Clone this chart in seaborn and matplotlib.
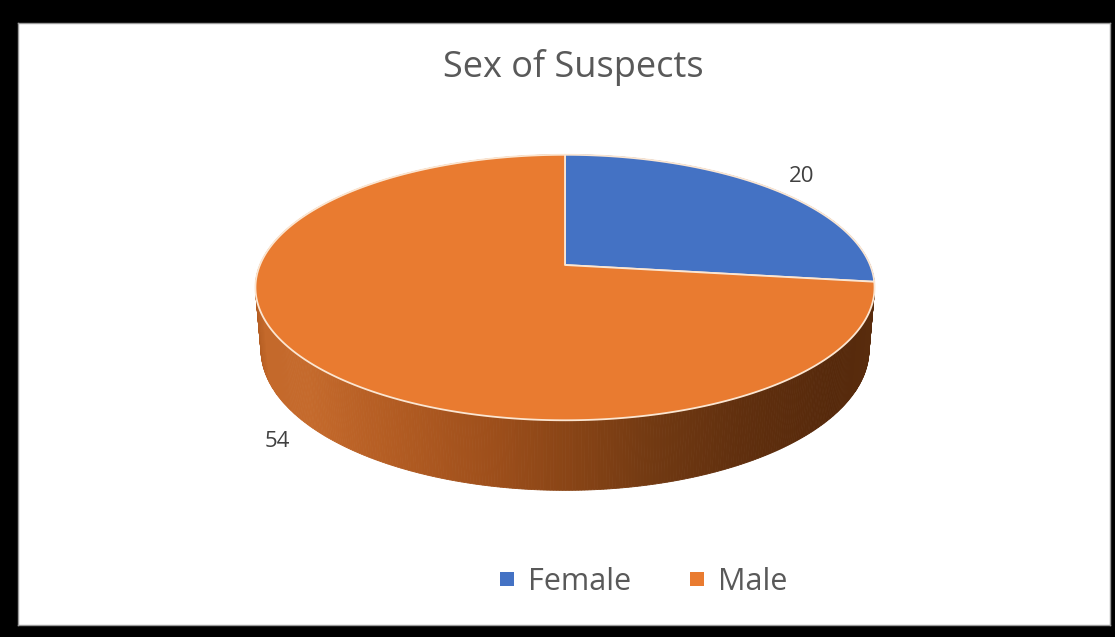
import numpy as np
import matplotlib
matplotlib.use("Agg")
import matplotlib.pyplot as plt
import seaborn as sns
from matplotlib.lines import Line2D
from matplotlib.colors import LinearSegmentedColormap

# ---- data ----
categories = ["Female", "Male"]
values = [20, 54]
slice_colors = ["#4472C4", "#E97B30"]
title = "Sex of Suspects"

sns.set_theme(style="white")
plt.rcParams['font.family'] = ['Open Sans', 'DejaVu Sans']

W, H = 1115, 637
fig = plt.figure(figsize=(W / 100, H / 100), dpi=100)
fig.patch.set_facecolor('black')
L, R, T, B = 18, 1110, 23, 625
ax = fig.add_axes([L / W, (H - B) / H, (R - L) / W, (B - T) / H])
ax.set_xlim(L, R)
ax.set_ylim(B, T)
ax.set_facecolor('white')
ax.set_xticks([])
ax.set_yticks([])
for s in ax.spines.values():
    s.set_color('#9a9a9a')
    s.set_linewidth(1)

# ---- 3D perspective camera for the pie ----
cx, cy = 565, 265
elev = np.deg2rad(25)
ce, se = np.cos(elev), np.sin(elev)
Dist, Foc, thick = 5.34, 1629.0, 0.225


def proj(X, Y, Z):
    d = Dist + Y * ce - Z * se
    return cx + Foc * X / d, cy - Foc * (Y * se + Z * ce) / d


side_maps = [
    LinearSegmentedColormap.from_list("b", ["#24407a", "#2b4a86", "#1f3a6c"]),
    LinearSegmentedColormap.from_list("o", [
        (0.00, "#ad581e"), (0.04, "#c4692b"), (0.125, "#c56a2c"),
        (0.25, "#b45d23"), (0.40, "#9e4f1b"), (0.50, "#8a4516"),
        (0.625, "#713912"), (0.75, "#602f0e"), (0.90, "#56290b"),
        (1.00, "#5a2d0e")]),
]

fracs = np.array(values, dtype=float) / np.sum(values)
starts = 90 - 360 * np.concatenate([[0], np.cumsum(fracs)[:-1]])
ends = starts - 360 * fracs

# side quads (sorted far to near)
quads = []
for i, (a0, a1) in enumerate(zip(starts, ends)):
    n = max(int(abs(a1 - a0) / 0.5), 2)
    ts = np.deg2rad(np.linspace(a0, a1, n + 1))
    for k in range(n):
        t0, t1 = ts[k], ts[k + 1]
        tm = 0.5 * (t0 + t1)
        X = np.array([np.cos(t0), np.cos(t1), np.cos(t1), np.cos(t0)])
        Y = np.array([np.sin(t0), np.sin(t1), np.sin(t1), np.sin(t0)])
        Z = np.array([0, 0, -thick, -thick])
        px, py = proj(X, Y, Z)
        col = side_maps[i]((np.cos(tm) + 1) / 2)
        quads.append((np.sin(tm), px, py, col))
quads.sort(key=lambda q: -q[0])
for _, px, py, col in quads:
    ax.fill(px, py, color=col, lw=0.6, ec=col, zorder=2)

# top faces
for i, (a0, a1) in enumerate(zip(starts, ends)):
    ts = np.deg2rad(np.linspace(a0, a1, 400))
    X = np.concatenate([[0], np.cos(ts), [0]])
    Y = np.concatenate([[0], np.sin(ts), [0]])
    px, py = proj(X, Y, np.zeros_like(X))
    ax.fill(px, py, color=slice_colors[i], ec='#fbe6d2', lw=1.3, zorder=3,
            joinstyle='round')

# data labels (outside end)
for i, (a0, a1) in enumerate(zip(starts, ends)):
    tm = np.deg2rad(0.5 * (a0 + a1))
    back = np.sin(tm) > 0
    r = 1.17 if back else 1.12
    X, Y = r * np.cos(tm), r * np.sin(tm)
    lx, ly = proj(X, Y, 0 if back else -thick)
    ax.text(lx, ly, str(values[i]), ha='center', va='center',
            fontsize=16, color='#404040', zorder=5)

# title
ax.text(573, 77, title, ha='center', va='baseline', fontsize=26,
        color='#595959', zorder=5)

# legend
handles = [Line2D([], [], marker='s', ls='', markersize=10,
                  color=c, markeredgewidth=0) for c in slice_colors]
leg = fig.legend(handles, categories, loc='center', ncol=2,
                 bbox_to_anchor=(643 / W, 1 - 582 / H), frameon=False,
                 fontsize=22, labelcolor='#595959', handlelength=0.55,
                 handletextpad=0.4, columnspacing=1.9, borderpad=0)

fig.savefig("out.png", dpi=100, facecolor=fig.get_facecolor())
